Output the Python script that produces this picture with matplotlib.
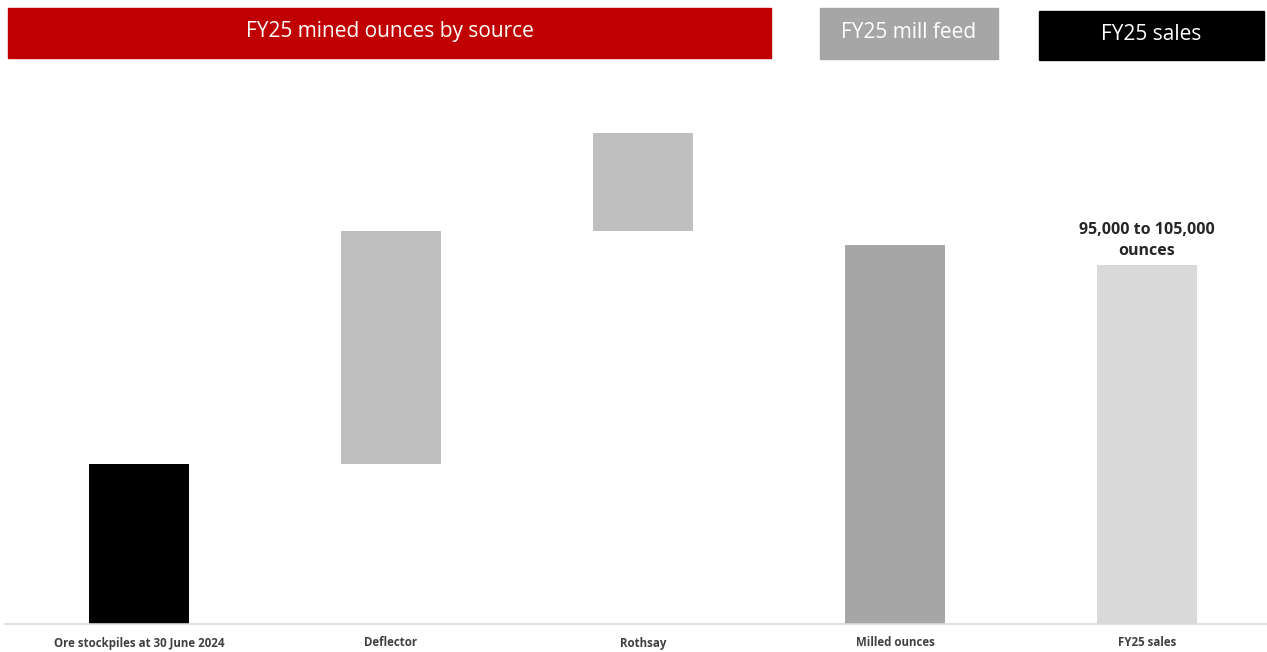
import matplotlib.pyplot as plt
from matplotlib.patches import Rectangle

# values in thousand ounces
categories = ['Ore stockpiles at 30 June 2024', 'Deflector', 'Rothsay', 'Milled ounces', 'FY25 sales']
bottoms = [0, 44.5, 109.5, 0, 0]
heights = [44.5, 65.0, 27.3, 105.5, 100.0]
bar_colors = ['#000000', '#BFBFBF', '#BFBFBF', '#A6A6A6', '#D9D9D9']
sales_label = '95,000 to 105,000\nounces'

headers = ['FY25 mined ounces by source', 'FY25 mill feed', 'FY25 sales']
header_colors = ['#C00000', '#A6A6A6', '#000000']
header_px = [(8, 8, 763, 50), (820, 8, 178, 51), (1039, 11, 225, 49)]

W, H = 1267, 652
fig = plt.figure(figsize=(W / 100, H / 100), dpi=100)
plt.rcParams['font.family'] = ['Open Sans', 'DejaVu Sans']

# plot area: baseline at y=624, categories 252 px apart starting at x=13
ax = fig.add_axes([13 / W, (H - 624) / H, 1260 / W, (624 - 70) / H])
x = range(len(categories))
ax.bar(x, heights, bottom=bottoms, width=0.397, color=bar_colors)
ax.set_xlim(-0.5, 4.5)
ax.set_ylim(0, 154.3)
for s in ax.spines.values():
    s.set_visible(False)
ax.set_yticks([])
ax.set_xticks(list(x))
ax.set_xticklabels(categories, fontsize=8.3, fontweight='bold', color='#404040')
ax.tick_params(axis='x', length=0, pad=9)
ax.axhline(0, color='#D9D9D9', lw=1.2, xmin=-8 / 1260, xmax=1.0, clip_on=False)

ax.annotate(sales_label, (4, bottoms[4] + heights[4]), xytext=(0, 4), textcoords='offset points',
            ha='center', va='bottom', fontsize=11.5, fontweight='bold', color='#262626',
            linespacing=1.45)

# header boxes
for label, col, (px, py, pw, ph) in zip(headers, header_colors, header_px):
    fig.patches.append(Rectangle((px / W, 1 - (py + ph) / H), pw / W, ph / H,
                                 transform=fig.transFigure, color=col))
    fig.text((px + pw / 2) / W, 1 - (py + ph / 2 - 1.5) / H, label, ha='center', va='center',
             color='white', fontsize=15)

fig.savefig('out.png', dpi=100)
